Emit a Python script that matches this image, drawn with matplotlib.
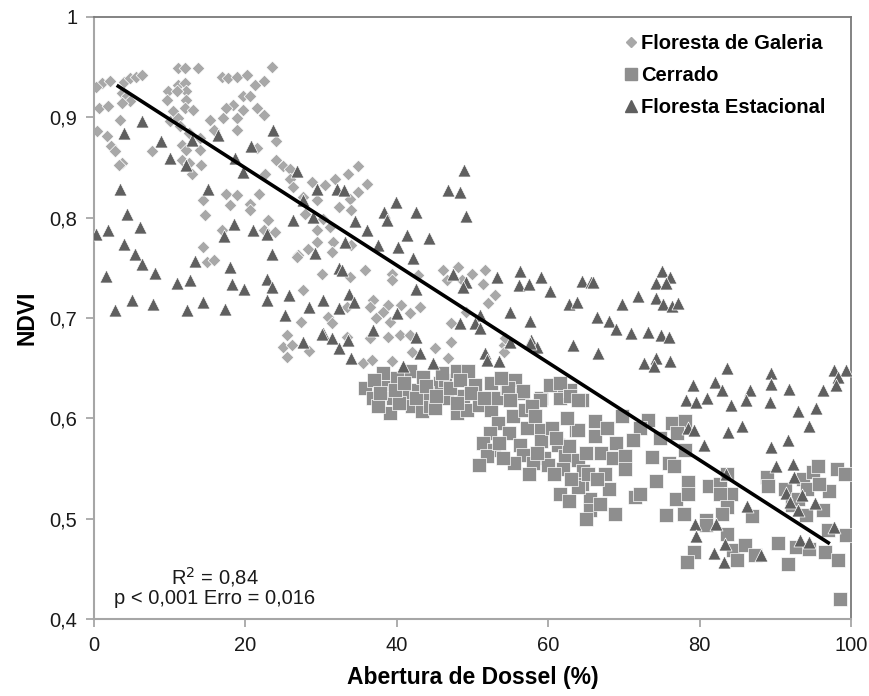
import matplotlib
matplotlib.use("Agg")
import matplotlib.pyplot as plt
from matplotlib.lines import Line2D

plt.rcParams['font.family'] = ['Liberation Sans', 'DejaVu Sans']

# ---------------- data ----------------
galeria = [
    (1.0,0.934),(2.1,0.936),(3.9,0.935),(4.8,0.939),(5.6,0.940),(6.3,0.942),(3.7,0.924),(4.3,0.921),
    (4.8,0.916),(3.7,0.914),(0.6,0.909),(1.9,0.911),(3.4,0.897),(0.4,0.886),(1.7,0.881),(2.3,0.871),
    (2.8,0.866),(3.7,0.854),(3.3,0.852),(0.2,0.930),
    (11.1,0.949),(12.0,0.949),(13.8,0.949),(9.8,0.926),(11.1,0.932),(12.0,0.934),(12.2,0.926),(9.6,0.917),
    (10.9,0.926),(12.2,0.917),(12.0,0.909),(13.1,0.907),(10.5,0.906),(10.0,0.896),(11.1,0.899),(11.4,0.891),
    (12.5,0.884),(7.6,0.866),(11.6,0.872),(12.2,0.867),(11.6,0.857),(12.5,0.854),(12.9,0.844),(14.2,0.852),
    (14.0,0.867),(14.0,0.879),(15.3,0.897),(15.8,0.887),(16.9,0.940),(17.7,0.939),(18.9,0.940),(20.2,0.942),
    (23.5,0.950),(21.3,0.932),(22.4,0.936),(19.7,0.921),(20.6,0.921),(18.4,0.912),(17.5,0.909),(19.7,0.907),
    (21.5,0.909),(22.4,0.902),(17.1,0.899),(18.9,0.899),(18.9,0.887),(24.1,0.876),(21.5,0.869),(24.1,0.857),
    (25.0,0.851),(25.9,0.849),(22.6,0.844),(25.9,0.839),(26.3,0.831),(28.8,0.836),(30.5,0.833),(31.8,0.839),
    (27.6,0.821),(27.9,0.804),(29.4,0.818),(29.4,0.788),(30.3,0.799),(31.2,0.791),(32.3,0.811),(29.4,0.776),
    (31.6,0.776),(28.3,0.769),(27.0,0.763),(31.4,0.766),(30.1,0.744),(27.6,0.728),(30.9,0.701),(31.4,0.695),
    (27.4,0.696),(25.5,0.683),(14.4,0.818),(14.7,0.803),(17.5,0.824),(18.9,0.823),(18.0,0.813),(20.6,0.814),
    (20.6,0.808),(21.8,0.824),(23.0,0.798),(22.4,0.788),(23.9,0.786),(16.9,0.788),(14.4,0.771),(14.9,0.756),
    (15.8,0.758),(26.8,0.761),
    (25.0,0.671),(26.1,0.673),(25.5,0.661),(28.4,0.667),
    (34.9,0.851),(33.6,0.844),(36.0,0.834),(34.9,0.826),(33.8,0.819),(34.0,0.808),(34.0,0.773),(35.8,0.748),
    (33.8,0.741),(39.3,0.744),(39.3,0.738),(42.8,0.743),(46.1,0.748),(46.6,0.738),(48.1,0.751),(49.9,0.744),
    (51.7,0.748),(48.6,0.738),(51.4,0.734),(53.0,0.723),(52.1,0.715),(49.2,0.706),(43.1,0.711),(40.6,0.713),
    (38.9,0.713),(36.9,0.718),(36.5,0.711),(38.2,0.706),(41.7,0.705),(37.3,0.700),(39.1,0.696),(47.2,0.695),
    (36.5,0.680),(38.9,0.681),(40.4,0.683),(41.7,0.683),(47.2,0.676),(45.0,0.670),(42.0,0.666),(46.8,0.660),
    (35.6,0.655),(36.7,0.658),(39.3,0.657),(54.1,0.673),(54.1,0.666),(54.3,0.680),(33.4,0.711),(33.4,0.681),
]

cerrado = [
    (35.8,0.630),(36.9,0.620),(38.7,0.631),(39.5,0.620),(39.1,0.605),(41.1,0.623),(42.0,0.612),(42.8,0.628),
    (43.3,0.607),(44.4,0.612),(45.7,0.635),(46.6,0.620),(47.9,0.605),(48.8,0.622),(49.3,0.608),(50.3,0.633),
    (50.9,0.613),(52.5,0.608),(52.5,0.635),(53.2,0.620),(54.5,0.630),(55.4,0.602),(56.5,0.625),(56.9,0.608),
    (53.4,0.595),(54.8,0.585),(52.3,0.585),(51.4,0.575),(52.8,0.568),(51.9,0.562),(50.8,0.553),(56.3,0.573),
    (56.7,0.563),(57.2,0.590),(59.0,0.588),(59.1,0.577),(59.4,0.560),(60.0,0.553),(61.3,0.573),(62.2,0.562),
    (62.8,0.572),(63.9,0.558),(64.6,0.548),(64.4,0.535),(65.5,0.520),(65.5,0.509),(63.7,0.588),(66.2,0.582),
    (66.2,0.597),(59.1,0.620),(61.6,0.620),(64.4,0.618),(61.1,0.633),(62.9,0.628),
    (38.2,0.645),(41.7,0.647),(43.5,0.641),(46.4,0.638),(47.9,0.647),(49.4,0.647),(55.6,0.638),(54.7,0.630),
    (56.7,0.627),(58.9,0.618),(60.2,0.633),(61.6,0.635),(62.9,0.622),(63.9,0.618),(63.9,0.588),(63.9,0.532),
    (37.5,0.612),(40.3,0.615),(44.0,0.625),(47.0,0.630),(40.0,0.640),(37.0,0.638),(45.0,0.610),(42.5,0.620),
    (48.0,0.615),
    (37.8,0.625),(39.8,0.628),(41.0,0.635),(43.8,0.632),(45.2,0.622),(46.0,0.645),(48.3,0.638),(49.8,0.625),
    (51.5,0.620),(53.8,0.640),(55.0,0.618),(57.8,0.612),(58.3,0.602),(60.5,0.590),(61.0,0.580),(62.0,0.550),
    (63.0,0.540),(60.8,0.545),(58.0,0.555),(57.5,0.545),(55.5,0.555),(54.0,0.560),(53.5,0.575),(58.5,0.565),
    (62.5,0.600),(65.0,0.565),(65.2,0.545),(61.5,0.525),(62.8,0.518),(65.0,0.500),
    (67.0,0.565),(67.5,0.545),(68.0,0.530),(66.8,0.515),(68.5,0.560),(69.0,0.575),(67.8,0.590),(68.8,0.505),
    (66.5,0.540),
    (73.2,0.598),(72.1,0.590),(71.2,0.578),(70.1,0.562),(70.1,0.550),(69.7,0.602),(76.3,0.595),(78.1,0.597),
    (77.0,0.585),(74.8,0.580),(78.1,0.568),(73.7,0.561),(75.9,0.555),(76.6,0.552),(74.3,0.538),(71.5,0.522),
    (72.1,0.525),(76.9,0.520),(75.6,0.504),(77.9,0.505),(78.5,0.537),(78.5,0.525),(81.2,0.533),(82.7,0.535),
    (84.2,0.525),(82.7,0.525),(83.6,0.545),(83.6,0.512),(82.9,0.505),(86.9,0.503),(80.9,0.499),(80.9,0.494),
    (83.6,0.485),(79.2,0.467),(78.3,0.457),(84.4,0.469),(85.0,0.459),(86.0,0.474),(87.3,0.464),(88.9,0.542),
    (89.1,0.533),(91.3,0.530),(93.7,0.540),(95.0,0.547),(95.6,0.552),(98.1,0.550),(99.2,0.545),(97.1,0.528),
    (92.2,0.514),(94.0,0.504),(96.3,0.509),(97.0,0.489),(99.4,0.484),(90.4,0.476),(92.8,0.472),(94.4,0.470),
    (91.7,0.455),(96.6,0.467),(98.3,0.459),(98.5,0.420),(94.2,0.530),(95.8,0.535),(93.0,0.520),
]

estacional = [
    (6.3,0.896),(3.9,0.884),(8.9,0.876),(10.0,0.859),(12.2,0.852),(12.9,0.877),(16.4,0.882),(20.8,0.871),
    (19.7,0.846),(18.6,0.859),(23.6,0.887),(26.8,0.847),(29.4,0.829),(32.1,0.829),(27.6,0.818),(28.9,0.801),
    (26.3,0.798),(3.4,0.829),(4.4,0.804),(0.3,0.784),(1.9,0.788),(6.1,0.791),(3.9,0.774),(5.4,0.764),
    (6.3,0.754),(1.6,0.742),(8.1,0.745),(2.8,0.708),(5.0,0.718),(7.8,0.714),(10.9,0.735),(12.7,0.738),
    (12.3,0.708),(14.4,0.716),(17.3,0.709),(15.1,0.829),(18.5,0.794),(17.2,0.782),(21.0,0.788),(22.8,0.784),
    (23.5,0.764),(18.0,0.751),(18.2,0.734),(19.8,0.729),(13.3,0.757),(22.9,0.739),(23.5,0.731),(22.9,0.718),
    (25.7,0.723),(25.2,0.703),(28.4,0.711),(30.2,0.718),(32.3,0.710),(32.3,0.750),(29.2,0.765),(30.2,0.685),
    (27.6,0.676),(30.1,0.684),(31.4,0.680),(32.3,0.670),
    (48.9,0.848),(46.8,0.828),(48.4,0.826),(49.1,0.802),(39.9,0.816),(38.3,0.806),(38.7,0.798),(42.6,0.806),
    (34.5,0.797),(36.0,0.788),(33.0,0.828),(41.4,0.783),(44.2,0.780),(33.2,0.776),(37.5,0.773),(40.2,0.771),
    (42.1,0.760),(32.7,0.748),(47.4,0.744),(49.1,0.736),(48.8,0.731),(53.2,0.741),(56.3,0.747),(56.1,0.733),
    (57.4,0.734),(59.0,0.741),(60.2,0.727),(64.4,0.737),(65.7,0.736),(62.8,0.714),(63.8,0.716),(55.0,0.706),
    (57.6,0.697),(63.3,0.673),(57.7,0.678),(58.5,0.671),(51.0,0.703),(50.3,0.695),(51.0,0.690),(48.3,0.695),
    (42.5,0.729),(33.7,0.724),(34.3,0.716),(40.0,0.705),(36.9,0.688),(33.6,0.678),(42.6,0.681),(43.1,0.665),
    (51.7,0.665),(51.9,0.658),(53.5,0.657),(33.9,0.660),(40.8,0.652),(44.8,0.655),(55.0,0.676),(57.6,0.675),
    (75.0,0.747),(76.1,0.741),(74.3,0.735),(75.6,0.735),(71.8,0.722),(69.8,0.714),(74.3,0.720),(75.1,0.714),
    (76.4,0.712),(77.1,0.715),(65.9,0.736),(66.5,0.701),(68.0,0.697),(69.0,0.689),(71.0,0.685),(73.2,0.686),
    (74.9,0.683),(76.0,0.681),(66.6,0.665),(72.7,0.655),(74.2,0.660),(74.0,0.652),(76.1,0.657),
    (83.6,0.650),(89.4,0.645),(89.4,0.634),(97.7,0.648),(99.3,0.648),(98.3,0.641),(98.0,0.633),(79.1,0.633),
    (82.1,0.636),(82.9,0.628),(86.6,0.628),(91.8,0.629),(96.3,0.628),(78.2,0.618),(79.5,0.616),(81.0,0.620),
    (84.1,0.613),(86.1,0.618),(89.3,0.616),(93.0,0.607),(95.4,0.610),(94.5,0.592),(85.6,0.592),(83.8,0.586),
    (78.5,0.590),(79.3,0.588),(80.6,0.573),(89.4,0.571),(91.7,0.578),(90.1,0.552),(92.4,0.554),(92.5,0.542),
    (91.4,0.526),(93.5,0.524),(91.9,0.517),(93.0,0.509),(95.2,0.516),(86.2,0.513),(83.5,0.545),(79.4,0.495),
    (79.5,0.483),(82.2,0.495),(83.4,0.475),(81.9,0.466),(83.2,0.457),(88.1,0.464),(93.3,0.479),(94.4,0.477),
    (97.8,0.492),
]

fit_x = [3.2, 97.0]
fit_y = [0.931, 0.476]

series_names = ["Floresta de Galeria", "Cerrado", "Floresta Estacional"]
x_ticks = [0, 20, 40, 60, 80, 100]
y_ticks = [0.4, 0.5, 0.6, 0.7, 0.8, 0.9, 1.0]
y_tick_labels = ["0,4", "0,5", "0,6", "0,7", "0,8", "0,9", "1"]
annot_lines = ["R$^2$ = 0,84", "p < 0,001 Erro = 0,016"]

# ---------------- plot ----------------
fig = plt.figure(figsize=(8.7, 6.96), dpi=100)
ax = fig.add_axes([94/870, 1-619/696, (851-94)/870, (619-17)/696])

c_gal, c_cer, c_est = '#a8a8a8', '#8e8e8e', '#5f5f5f'

ax.scatter([p[0] for p in galeria], [p[1] for p in galeria], marker='D', s=42,
           c=c_gal, edgecolors='white', linewidths=0.5, zorder=2)
ax.scatter([p[0] for p in cerrado], [p[1] for p in cerrado], marker='s', s=92,
           c=c_cer, edgecolors='white', linewidths=0.5, zorder=3)
ax.scatter([p[0] for p in estacional], [p[1] for p in estacional], marker='^', s=88,
           c=c_est, edgecolors='white', linewidths=0.5, zorder=4)
ax.plot(fit_x, fit_y, color='black', lw=2.6, zorder=5)

ax.set_xlim(0, 100)
ax.set_ylim(0.4, 1.0)
ax.set_xticks(x_ticks)
ax.set_xticklabels([str(v) for v in x_ticks])
ax.set_yticks(y_ticks)
ax.set_yticklabels(y_tick_labels)
ax.tick_params(axis='both', direction='out', length=6, width=1.2, color='#a0a0a0',
               labelsize=14.5, labelcolor='#1a1a1a', pad=6)

for side in ['left', 'bottom']:
    ax.spines[side].set_color('#a6a6a6')
    ax.spines[side].set_linewidth(1.5)
for side in ['top', 'right']:
    ax.spines[side].set_color('#7a7a7a')
    ax.spines[side].set_linewidth(1.3)

ax.set_xlabel("Abertura de Dossel (%)", fontsize=16.5, fontweight='bold', labelpad=8)
ax.set_ylabel("NDVI", fontsize=16.5, fontweight='bold', labelpad=8)

ax.text(215/870, 1-577/696, annot_lines[0], transform=fig.transFigure, ha='center', va='center',
        fontsize=14.5, color='#1a1a1a')
ax.text(215/870, 1-599/696, annot_lines[1], transform=fig.transFigure, ha='center', va='center',
        fontsize=14.5, color='#1a1a1a')

handles = [
    Line2D([], [], marker='D', ls='none', color=c_gal, markersize=5.5),
    Line2D([], [], marker='s', ls='none', color=c_cer, markersize=8.5),
    Line2D([], [], marker='^', ls='none', color=c_est, markersize=9),
]
ax.legend(handles, series_names, loc='upper right', bbox_to_anchor=(0.985, 0.995), frameon=False,
          prop={'weight': 'bold', 'size': 14.5}, handlelength=0.6, handletextpad=0.2,
          labelspacing=0.65, borderaxespad=0.3)

fig.savefig("out.png", dpi=100)
